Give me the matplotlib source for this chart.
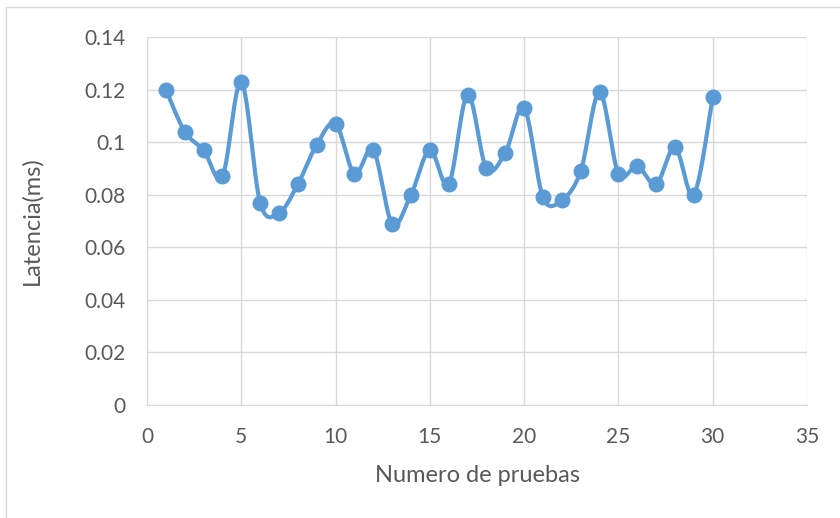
import numpy as np
import matplotlib
matplotlib.use("Agg")
import matplotlib.pyplot as plt
from matplotlib.patches import Rectangle

plt.rcParams['font.family'] = ['Lato', 'DejaVu Sans']

trials = list(range(1, 31))
latency_ms = [0.120, 0.104, 0.097, 0.087, 0.123, 0.077, 0.073, 0.084, 0.099, 0.107,
              0.088, 0.097, 0.069, 0.080, 0.097, 0.084, 0.118, 0.090, 0.096, 0.113,
              0.079, 0.078, 0.089, 0.119, 0.088, 0.091, 0.084, 0.098, 0.080, 0.117]
x_ticks = [0, 5, 10, 15, 20, 25, 30, 35]
y_ticks = [0, 0.02, 0.04, 0.06, 0.08, 0.1, 0.12, 0.14]
y_tick_labels = ["0", "0.02", "0.04", "0.06", "0.08", "0.1", "0.12", "0.14"]

LINE = "#5B9BD5"
GRID = "#D9D9D9"
TEXT = "#595959"


def smooth_curve(xs, ys, steps=30):
    """Cubic Bezier smoothing through every point (Catmull-Rom style)."""
    xs = np.asarray(xs, float)
    ys = np.asarray(ys, float)
    n = len(xs)
    out_x, out_y = [], []
    t = np.linspace(0, 1, steps)
    for i in range(n - 1):
        p0 = np.array([xs[max(i - 1, 0)], ys[max(i - 1, 0)]])
        p1 = np.array([xs[i], ys[i]])
        p2 = np.array([xs[i + 1], ys[i + 1]])
        p3 = np.array([xs[min(i + 2, n - 1)], ys[min(i + 2, n - 1)]])
        c1 = p1 + (p2 - p0) / 6.0
        c2 = p2 - (p3 - p1) / 6.0
        seg = ((1 - t) ** 3)[:, None] * p1 + (3 * (1 - t) ** 2 * t)[:, None] * c1 \
            + (3 * (1 - t) * t ** 2)[:, None] * c2 + (t ** 3)[:, None] * p2
        if i > 0:
            seg = seg[1:]
        out_x.extend(seg[:, 0])
        out_y.extend(seg[:, 1])
    return np.array(out_x), np.array(out_y)


fig = plt.figure(figsize=(8.4, 5.18), dpi=100)
fig.patch.set_facecolor("white")

# chart frame (left and top edges visible)
fig.patches.append(Rectangle((6 / 840, -0.1), 1.0, 1.1 - 7 / 518,
                             transform=fig.transFigure, fill=False,
                             edgecolor="#D9D9D9", linewidth=1.0))

ax = fig.add_axes([147 / 840, 1 - 405 / 518, (807 - 147) / 840, (405 - 37) / 518])

sx, sy = smooth_curve(trials, latency_ms)
ax.plot(sx, sy, color=LINE, linewidth=3.0, solid_capstyle="round", zorder=3)
ax.plot(trials, latency_ms, linestyle="none", marker="o", markersize=10.5,
        color=LINE, zorder=4)

ax.set_xlim(0, 35)
ax.set_ylim(0, 0.14)
ax.set_xticks(x_ticks)
ax.set_yticks(y_ticks)
ax.set_yticklabels(y_tick_labels)
ax.grid(True, color=GRID, linewidth=1.0)
ax.set_axisbelow(True)

for side in ["top", "right"]:
    ax.spines[side].set_visible(False)
ax.spines["left"].set_color(GRID)
ax.spines["bottom"].set_color(GRID)
ax.tick_params(axis="both", length=0, colors=TEXT, labelsize=15)
ax.tick_params(axis="x", pad=16)
ax.tick_params(axis="y", pad=15.5)

ax.set_xlabel("Numero de pruebas", color=TEXT, fontsize=17)
ax.set_ylabel("Latencia(ms)", color=TEXT, fontsize=17)
ax.xaxis.label.set_va("center")
ax.yaxis.label.set_va("center")
ax.xaxis.set_label_coords((478 - 147) / 660, (405 - 476) / 368)
ax.yaxis.set_label_coords((32 - 147) / 660, 0.5)

fig.savefig("out.png", dpi=100)
